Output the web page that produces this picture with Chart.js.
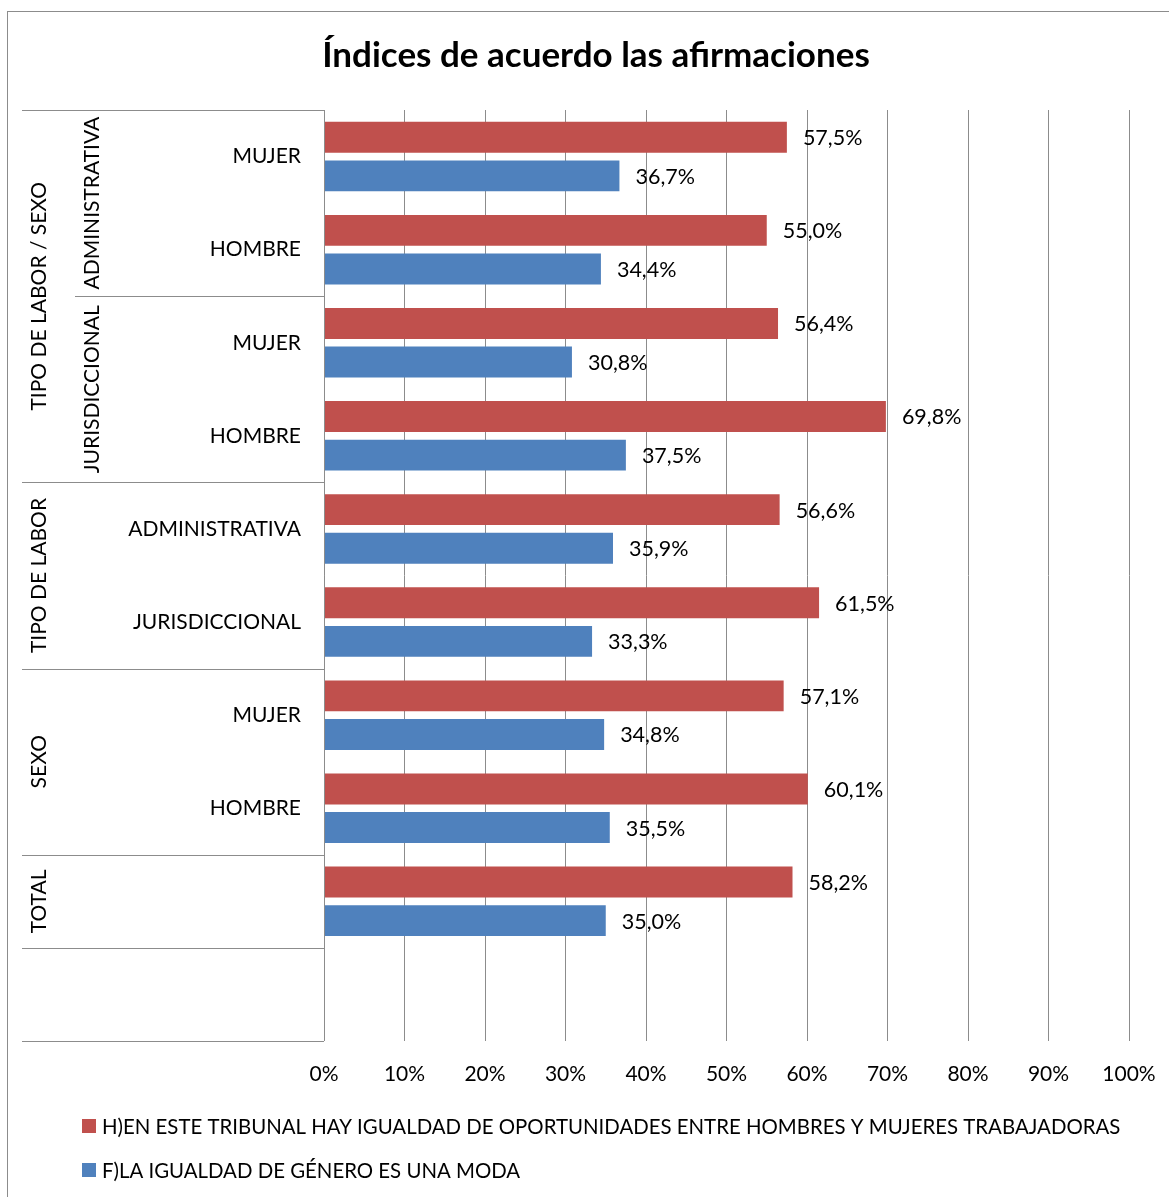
<!DOCTYPE html>
<html>
<head>
<meta charset="utf-8">
<title>Índices de acuerdo las afirmaciones</title>
<script src="https://cdn.jsdelivr.net/npm/chart.js"></script>
<style>
  html, body { margin: 0; padding: 0; background: #fff; overflow: hidden; }
  canvas { display: block; }
</style>
</head>
<body>
<canvas id="chart" width="1169" height="1197"></canvas>
<script>
// categories (innermost level), bottom row is an empty spacer
const categories = ['MUJER', 'HOMBRE', 'MUJER', 'HOMBRE', 'ADMINISTRATIVA', 'JURISDICCIONAL', 'MUJER', 'HOMBRE', '', ''];

// outer and middle levels of the category axis
const outerGroups = ['TIPO DE LABOR / SEXO', 'TIPO DE LABOR', 'SEXO', 'TOTAL', ''];
const outerSpans = [4, 2, 2, 1, 1];
const middleGroups = ['ADMINISTRATIVA', 'JURISDICCIONAL'];
const middleSpans = [2, 2];

// series
const seriesNames = [
  'H)EN ESTE TRIBUNAL HAY IGUALDAD DE OPORTUNIDADES ENTRE HOMBRES Y MUJERES TRABAJADORAS',
  'F)LA IGUALDAD DE GÉNERO ES UNA MODA'
];
const igualdadValues = [57.5, 55.0, 56.4, 69.8, 56.6, 61.5, 57.1, 60.1, 58.2, null];
const modaValues = [36.7, 34.4, 30.8, 37.5, 35.9, 33.3, 34.8, 35.5, 35.0, null];
const seriesColors = ['#C0504D', '#4F81BD'];

const FONT = 'Lato';
const LINE = '#8c8c8c';

const pct = v => v.toFixed(1).replace('.', ',') + '%';

// frame around the whole chart
const framePlugin = {
  id: 'frame',
  beforeDraw(chart) {
    const ctx = chart.ctx;
    ctx.save();
    ctx.strokeStyle = LINE;
    ctx.lineWidth = 1;
    ctx.strokeRect(7.5, 11.5, chart.width + 50, chart.height + 50);
    ctx.restore();
  }
};

// multi-level category labels and their separators
const hierarchyPlugin = {
  id: 'hierarchy',
  afterDraw(chart) {
    const ctx = chart.ctx;
    const y = chart.scales.y;
    const axisX = chart.chartArea.left;
    const edge = i => y.getPixelForValue(i - 0.5);

    ctx.save();
    ctx.strokeStyle = LINE;
    ctx.lineWidth = 1;
    ctx.fillStyle = '#000';
    ctx.font = '21px ' + FONT;
    ctx.textAlign = 'center';
    ctx.textBaseline = 'middle';

    const hline = (x0, py) => {
      const yy = Math.round(py) + 0.5;
      ctx.beginPath();
      ctx.moveTo(x0, yy);
      ctx.lineTo(axisX, yy);
      ctx.stroke();
    };
    const vtext = (text, x, py) => {
      ctx.save();
      ctx.translate(x, py);
      ctx.rotate(-Math.PI / 2);
      ctx.fillText(text, 0, 0);
      ctx.restore();
    };

    // axis line
    ctx.beginPath();
    ctx.moveTo(axisX + 0.5, edge(0));
    ctx.lineTo(axisX + 0.5, edge(categories.length));
    ctx.stroke();

    let start = 0;
    hline(22, edge(0));
    outerGroups.forEach((name, k) => {
      const end = start + outerSpans[k];
      hline(22, edge(end));
      if (name) vtext(name, 39, (edge(start) + edge(end)) / 2);
      start = end;
    });

    start = 0;
    middleGroups.forEach((name, k) => {
      const end = start + middleSpans[k];
      if (end < outerSpans[0]) hline(75, edge(end));
      vtext(name, 92, (edge(start) + edge(end)) / 2);
      start = end;
    });
    ctx.restore();
  }
};

// value labels to the right of each bar
const valueLabelPlugin = {
  id: 'valueLabels',
  afterDatasetsDraw(chart) {
    const ctx = chart.ctx;
    ctx.save();
    ctx.fillStyle = '#000';
    ctx.font = '21.5px ' + FONT;
    ctx.textAlign = 'left';
    ctx.textBaseline = 'middle';
    chart.data.datasets.forEach((ds, di) => {
      chart.getDatasetMeta(di).data.forEach((bar, i) => {
        const v = ds.data[i];
        if (v == null) return;
        ctx.fillText(pct(v), bar.x + 16, bar.y + 1);
      });
    });
    ctx.restore();
  }
};

// legend stacked below the axis, left aligned
const legendPlugin = {
  id: 'stackedLegend',
  afterDraw(chart) {
    const ctx = chart.ctx;
    const base = chart.chartArea.bottom;
    ctx.save();
    ctx.font = '20.4px ' + FONT;
    ctx.textAlign = 'left';
    ctx.textBaseline = 'middle';
    chart.data.datasets.forEach((ds, i) => {
      const cy = base + 85 + i * 44;
      ctx.fillStyle = ds.backgroundColor;
      ctx.fillRect(82, cy - 7, 14, 14);
      ctx.fillStyle = '#000';
      ctx.fillText(ds.label, 102, cy + 1);
    });
    ctx.restore();
  }
};

new Chart(document.getElementById('chart'), {
  type: 'bar',
  data: {
    labels: categories,
    datasets: [
      { label: seriesNames[0], data: igualdadValues, backgroundColor: seriesColors[0] },
      { label: seriesNames[1], data: modaValues, backgroundColor: seriesColors[1] }
    ]
  },
  options: {
    indexAxis: 'y',
    responsive: false,
    animation: false,
    categoryPercentage: 0.83,
    barPercentage: 0.8,
    layout: { padding: { left: 63, right: 40, top: 0, bottom: 0 } },
    plugins: {
      legend: { display: false },
      tooltip: { enabled: false },
      title: {
        display: true,
        text: 'Índices de acuerdo las afirmaciones',
        color: '#000',
        font: { family: FONT, size: 35, weight: 'bold' },
        padding: { top: 35, bottom: 33 }
      }
    },
    scales: {
      x: {
        min: 0,
        max: 100,
        ticks: {
          stepSize: 10,
          color: '#000',
          font: { family: FONT, size: 21 },
          padding: 21,
          callback: v => v + '%'
        },
        grid: { color: LINE, drawTicks: false },
        border: { display: false },
        afterFit(scale) {
          scale.height = 156;
          // the last tick label may overhang; layout padding already leaves room
          scale.paddingLeft = 0;
          scale.paddingRight = 0;
        }
      },
      y: {
        offset: true,
        ticks: {
          color: '#000',
          font: { family: FONT, size: 21 },
          padding: 23,
          autoSkip: false
        },
        grid: { display: false, drawTicks: false },
        border: { display: false },
        afterFit(scale) { scale.width = 261; }
      }
    }
  },
  plugins: [framePlugin, hierarchyPlugin, valueLabelPlugin, legendPlugin]
});
</script>
</body>
</html>
